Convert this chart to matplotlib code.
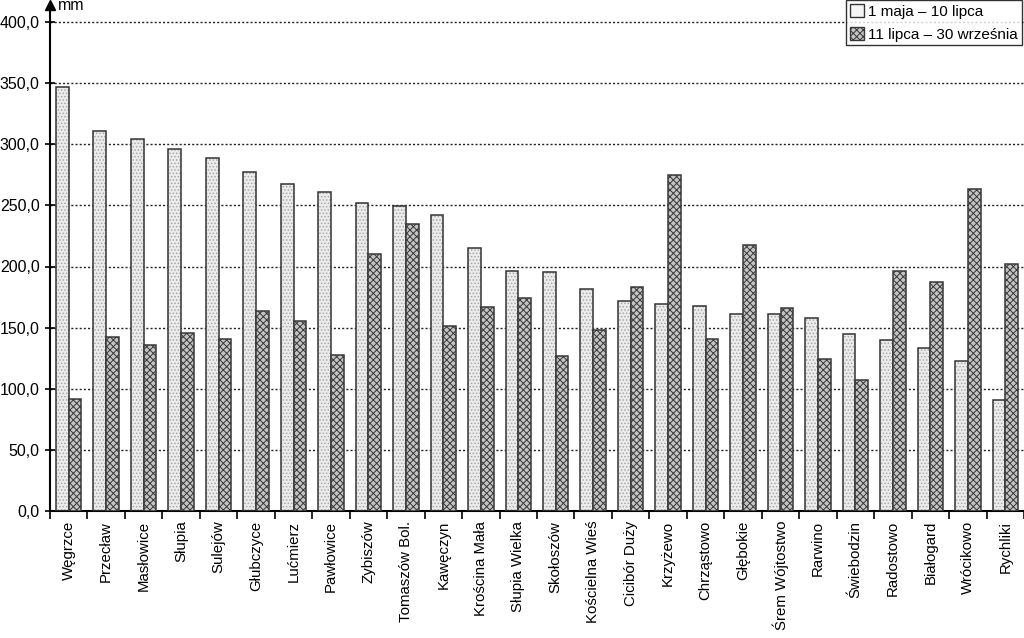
import matplotlib
matplotlib.use("Agg")
import matplotlib.pyplot as plt
import numpy as np
from matplotlib.patches import Patch
from matplotlib.ticker import FuncFormatter

plt.rcParams['font.family'] = ['Liberation Sans', 'DejaVu Sans']
plt.rcParams['hatch.linewidth'] = 0.7

categories = ["Węgrzce", "Przecław", "Masłowice", "Słupia", "Sulejów", "Głubczyce",
              "Lućmierz", "Pawłowice", "Zybiszów", "Tomaszów Bol.", "Kawęczyn",
              "Krościna Mała", "Słupia Wielka", "Skołoszów", "Kościelna Wieś",
              "Cicibór Duży", "Krzyżewo", "Chrząstowo", "Głębokie", "Śrem Wójtostwo",
              "Rarwino", "Świebodzin", "Radostowo", "Białogard", "Wrócikowo", "Rychliki"]
may_jul = [346.5, 310.5, 304, 296, 288.5, 277.5, 267.5, 261, 252, 249.5, 242, 215.5,
           196.5, 195.5, 181.5, 172, 169.5, 167.5, 161.5, 161, 157.5, 144.5, 140, 133,
           123, 91]
jul_sep = [92, 142.5, 135.5, 145.5, 141, 163.5, 155.5, 128, 210, 235, 151, 167,
           174, 127, 148, 183, 274.5, 140.5, 217.5, 166, 124.5, 107, 196, 187,
           263, 202]
series_labels = ["1 maja – 10 lipca", "11 lipca – 30 września"]
yticks = [0, 50, 100, 150, 200, 250, 300, 350, 400]

fig = plt.figure(figsize=(10.24, 6.38), dpi=100)
ax = fig.add_axes([50/1024, (638-511)/638, 1 - 50/1024, (511-5)/638])

x = np.arange(len(categories))
w = 0.34
# light stippled bars
ax.bar(x - w/2, may_jul, w, facecolor='#ececec', edgecolor='#a8a8a8', hatch='.....', linewidth=0, zorder=2)
ax.bar(x - w/2, may_jul, w, fill=False, edgecolor='#333333', linewidth=1.1, zorder=3)
# cross-hatched bars
ax.bar(x + w/2, jul_sep, w, facecolor='#c4c4c4', edgecolor='#383838', hatch='xxxxx', linewidth=1.1, zorder=3)

ax.set_xlim(-0.5, len(categories) - 0.5)
ax.set_ylim(0, 400 + 17 / 1.2225)
ax.set_yticks(yticks)
ax.yaxis.set_major_formatter(FuncFormatter(lambda v, p: f"{v:.1f}".replace('.', ',')))
ax.yaxis.grid(True, linestyle=(0, (1.5, 1.5)), color='#222222', linewidth=1.0, zorder=1)

ax.set_xticks(x)
ax.set_xticklabels(categories, rotation=90, fontsize=10.8)
ax.set_xticks(np.arange(len(categories) + 1) - 0.5, minor=True)
ax.tick_params(axis='x', which='major', length=0, pad=7)
ax.tick_params(axis='x', which='minor', length=6, width=1.2, direction='out', color='black')
ax.tick_params(axis='y', length=7, width=1.2, direction='inout', labelsize=11.5, pad=4)

for s in ['top', 'right']:
    ax.spines[s].set_visible(False)
ax.spines['left'].set_linewidth(1.5)
ax.spines['bottom'].set_linewidth(1.5)

# arrow at top of y axis and unit
ax.plot([0], [1.0], marker='^', color='black', markersize=7, transform=ax.transAxes, clip_on=False)
fig.text(58/1024, 1 - 6/638, "mm", fontsize=11.5, va='center', ha='left')

handles = [Patch(facecolor='#f4f4f4', edgecolor='#333333', linewidth=1.0),
           Patch(facecolor='#c4c4c4', edgecolor='#383838', hatch='xxxxx', linewidth=1.0)]
leg = fig.legend(handles, series_labels, loc='upper right', bbox_to_anchor=(1022/1024, 1.0),
                 fontsize=11, frameon=True, fancybox=False, borderpad=0.25,
                 handlelength=0.9, handleheight=1.0, handletextpad=0.3, labelspacing=0.5,
                 borderaxespad=0.0)
leg.get_frame().set_edgecolor('black')
leg.get_frame().set_linewidth(1.0)

fig.savefig("out.png", dpi=100)
